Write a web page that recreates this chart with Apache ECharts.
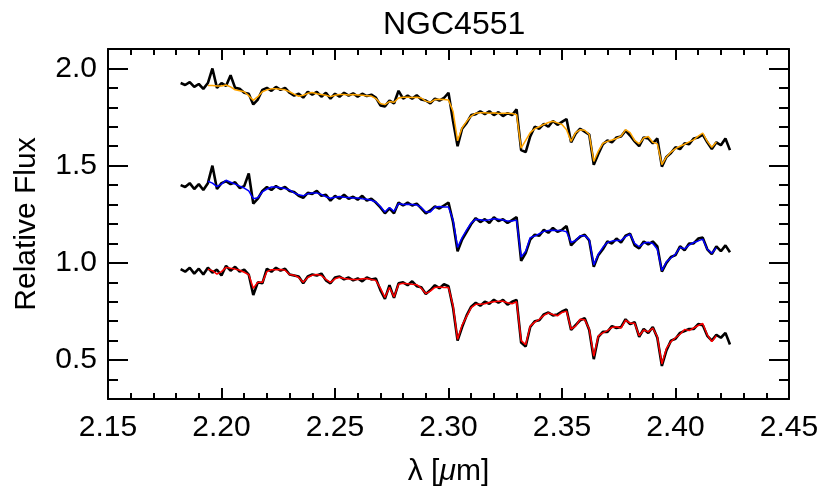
<!DOCTYPE html>
<html>
<head>
<meta charset="utf-8">
<title>NGC4551</title>
<script src="https://cdn.jsdelivr.net/npm/echarts@6/dist/echarts.min.js"></script>
<style>
  html, body { margin: 0; padding: 0; background: #fff; }
  #chart { width: 830px; height: 499px; }
</style>
</head>
<body>
<div id="chart"></div>
<script>
// wavelength grid of the observed spectra (micron)
const lambdaStart = 2.182;
const lambdaStep = 0.002;
// the model fits start at this grid index
const modelStartIndex = 6;

// observed spectra (black), offset copies
const obsTop = [
  1.925, 1.915, 1.93, 1.905, 1.92, 1.895, 1.925, 2.0, 1.9, 1.925,
  1.91, 1.965, 1.9, 1.895, 1.875, 1.87, 1.815, 1.84, 1.89, 1.9,
  1.885, 1.905, 1.89, 1.9, 1.875, 1.86, 1.87, 1.85, 1.88, 1.865,
  1.88, 1.855, 1.875, 1.845, 1.87, 1.855, 1.875, 1.86, 1.872, 1.855,
  1.87, 1.858, 1.865, 1.85, 1.81, 1.805, 1.835, 1.82, 1.885, 1.845,
  1.86, 1.845, 1.862, 1.84, 1.835, 1.82, 1.845, 1.835, 1.848, 1.875,
  1.73, 1.6, 1.69, 1.72, 1.76, 1.765, 1.78, 1.765, 1.78, 1.76,
  1.775, 1.755, 1.77, 1.76, 1.79, 1.58, 1.57, 1.65, 1.7, 1.69,
  1.715, 1.7, 1.73, 1.71, 1.725, 1.74, 1.62, 1.665, 1.69, 1.675,
  1.66, 1.505, 1.56, 1.61, 1.63, 1.62, 1.645, 1.65, 1.68, 1.655,
  1.625, 1.6, 1.645, 1.64, 1.615, 1.64, 1.495, 1.545, 1.565, 1.595,
  1.585, 1.615, 1.61, 1.64, 1.645, 1.66, 1.62, 1.585, 1.62, 1.605,
  1.64, 1.58
];
const obsMid = [
  1.4, 1.39, 1.41, 1.38, 1.405, 1.375, 1.41, 1.5, 1.38, 1.41,
  1.42, 1.405, 1.415, 1.385, 1.395, 1.46, 1.305, 1.33, 1.37, 1.39,
  1.375, 1.395, 1.38, 1.39, 1.37, 1.365, 1.345, 1.335, 1.36, 1.355,
  1.37, 1.345, 1.35, 1.32, 1.345, 1.33, 1.35, 1.33, 1.34, 1.325,
  1.345, 1.32, 1.33, 1.31, 1.285, 1.255, 1.28, 1.255, 1.31, 1.295,
  1.31, 1.295, 1.305, 1.28, 1.255, 1.27, 1.29, 1.28, 1.295, 1.31,
  1.21, 1.06, 1.12, 1.16, 1.2, 1.23, 1.21, 1.225, 1.205, 1.235,
  1.215, 1.225, 1.205, 1.22, 1.235, 1.01, 1.05, 1.12, 1.145, 1.14,
  1.17, 1.155, 1.18, 1.16, 1.17, 1.19, 1.09, 1.115, 1.135, 1.145,
  1.115, 0.98, 1.04, 1.07, 1.11, 1.1, 1.125, 1.105, 1.14, 1.15,
  1.09, 1.075, 1.11, 1.095, 1.11, 1.085, 0.955, 1.0, 1.03, 1.04,
  1.085, 1.065, 1.1, 1.1, 1.125, 1.13, 1.07, 1.045, 1.085, 1.06,
  1.09, 1.055
];
const obsLow = [
  0.968, 0.955, 0.975, 0.945, 0.97, 0.94, 0.975, 0.95, 0.965, 0.935,
  0.985, 0.96, 0.98, 0.955, 0.965, 0.94, 0.835, 0.9, 0.895, 0.97,
  0.955, 0.975, 0.96, 0.97, 0.94, 0.935, 0.93, 0.895, 0.93, 0.94,
  0.935, 0.945, 0.91, 0.895, 0.925, 0.93, 0.915, 0.925, 0.91, 0.92,
  0.905, 0.925, 0.915, 0.92, 0.86, 0.815, 0.885, 0.82, 0.895, 0.9,
  0.885, 0.905, 0.88, 0.875, 0.84, 0.86, 0.885, 0.87, 0.89, 0.88,
  0.77, 0.6, 0.67, 0.73, 0.775, 0.795, 0.78, 0.8, 0.79, 0.81,
  0.795, 0.81, 0.785, 0.8, 0.81, 0.59, 0.57, 0.67, 0.7, 0.705,
  0.735, 0.745, 0.73, 0.735, 0.75, 0.76, 0.655, 0.68, 0.705, 0.715,
  0.655, 0.505, 0.62, 0.645, 0.645, 0.675, 0.665, 0.67, 0.71, 0.685,
  0.695, 0.62, 0.66, 0.64, 0.67, 0.615, 0.47, 0.55, 0.6, 0.61,
  0.64, 0.65, 0.66, 0.66, 0.685, 0.68, 0.625, 0.6, 0.63, 0.615,
  0.64, 0.58
];

// model fits (orange, blue, red)
const fitTop = [
  1.912, 1.912, 1.91, 1.91,
  1.915, 1.905, 1.89, 1.885, 1.88, 1.86, 1.836, 1.855, 1.88, 1.89,
  1.895, 1.895, 1.893, 1.89, 1.88, 1.868, 1.857, 1.862, 1.872, 1.876,
  1.87, 1.866, 1.862, 1.855, 1.862, 1.866, 1.866, 1.864, 1.866, 1.864,
  1.862, 1.86, 1.858, 1.845, 1.82, 1.814, 1.83, 1.826, 1.848, 1.852,
  1.852, 1.85, 1.852, 1.848, 1.832, 1.826, 1.84, 1.842, 1.84, 1.838,
  1.78, 1.628, 1.695, 1.728, 1.755, 1.77, 1.772, 1.772, 1.77, 1.772,
  1.768, 1.77, 1.77, 1.768, 1.762, 1.59, 1.63, 1.67, 1.69, 1.7,
  1.712, 1.722, 1.728, 1.72, 1.712, 1.685, 1.625, 1.67, 1.685, 1.682,
  1.66, 1.522, 1.575, 1.615, 1.625, 1.632, 1.64, 1.652, 1.685, 1.67,
  1.63, 1.612, 1.642, 1.65, 1.62, 1.612, 1.505, 1.545, 1.57, 1.588,
  1.6, 1.61, 1.622, 1.633, 1.652, 1.668, 1.625, 1.595, 1.622
];
const fitMid = [
  1.42, 1.41, 1.392, 1.405,
  1.425, 1.415, 1.405, 1.395, 1.385, 1.37, 1.33, 1.335, 1.365, 1.38,
  1.39, 1.39, 1.386, 1.382, 1.375, 1.36, 1.35, 1.345, 1.356, 1.36,
  1.36, 1.352, 1.34, 1.332, 1.338, 1.342, 1.338, 1.336, 1.334, 1.334,
  1.33, 1.327, 1.322, 1.313, 1.29, 1.262, 1.285, 1.265, 1.305, 1.3,
  1.302, 1.3, 1.298, 1.285, 1.262, 1.262, 1.287, 1.29, 1.288, 1.287,
  1.22, 1.08, 1.13, 1.17, 1.205, 1.225, 1.222, 1.218, 1.222, 1.227,
  1.224, 1.22, 1.216, 1.215, 1.22, 1.03, 1.06, 1.13, 1.138, 1.15,
  1.162, 1.167, 1.168, 1.167, 1.166, 1.16, 1.105, 1.115, 1.14, 1.14,
  1.12, 0.99, 1.045, 1.08, 1.105, 1.112, 1.115, 1.115, 1.135, 1.148,
  1.1, 1.083, 1.102, 1.106, 1.1, 1.07, 0.96, 1.005, 1.025, 1.045,
  1.08, 1.072, 1.092, 1.105, 1.113, 1.122, 1.07, 1.05, 1.078
];
const fitLow = [
  0.968, 0.96, 0.942, 0.955,
  0.977, 0.972, 0.968, 0.962, 0.952, 0.94, 0.87, 0.9, 0.9, 0.955,
  0.965, 0.965, 0.966, 0.962, 0.94, 0.937, 0.925, 0.9, 0.925, 0.937,
  0.94, 0.935, 0.915, 0.9, 0.918, 0.926, 0.92, 0.917, 0.915, 0.914,
  0.918, 0.92, 0.915, 0.91, 0.87, 0.822, 0.875, 0.825, 0.89, 0.895,
  0.893, 0.89, 0.888, 0.87, 0.842, 0.855, 0.874, 0.876, 0.874, 0.874,
  0.78, 0.607, 0.68, 0.725, 0.77, 0.787, 0.787, 0.79, 0.796, 0.8,
  0.803, 0.803, 0.795, 0.79, 0.8, 0.6, 0.58, 0.675, 0.695, 0.71,
  0.73, 0.743, 0.735, 0.728, 0.745, 0.752, 0.66, 0.675, 0.71, 0.708,
  0.66, 0.52, 0.625, 0.64, 0.652, 0.668, 0.672, 0.665, 0.705, 0.69,
  0.69, 0.625, 0.655, 0.645, 0.665, 0.62, 0.48, 0.56, 0.595, 0.615,
  0.633, 0.658, 0.652, 0.665, 0.678, 0.688, 0.63, 0.595, 0.625
];

const yMajorTicks = [0.5, 1.0, 1.5, 2.0];

// pair flux values with their wavelength
function toPairs(flux, startIndex) {
  return flux.map(function (f, k) {
    var lam = lambdaStart + (startIndex + k) * lambdaStep;
    return [+lam.toFixed(4), f];
  });
}

var FONT = 'Liberation Sans';
var chart = echarts.init(document.getElementById('chart'), null, { renderer: 'canvas' });

function xAxisDef(pos, labels) {
  return {
    type: 'value', position: pos, min: 2.15, max: 2.45, interval: 0.05,
    axisLine: { show: true, onZero: false, lineStyle: { color: '#000', width: 2 } },
    axisTick: { show: true, inside: true, length: 11, lineStyle: { color: '#000', width: 2 } },
    minorTick: { show: true, splitNumber: 5, length: 6, lineStyle: { color: '#000', width: 2 } },
    axisLabel: {
      show: labels, color: '#000', fontFamily: FONT, fontSize: 30, margin: 14,
      formatter: function (v) { return v.toFixed(2); }
    },
    splitLine: { show: false }
  };
}

function yMinorDef(pos) {
  return {
    type: 'value', position: pos, min: 0.3, max: 2.1, interval: 0.1,
    axisLine: { show: true, onZero: false, lineStyle: { color: '#000', width: 2 } },
    axisTick: { show: true, inside: true, length: 10, lineStyle: { color: '#000', width: 2 } },
    axisLabel: { show: false },
    splitLine: { show: false }
  };
}

function yMajorDef(pos, labels) {
  return {
    type: 'value', position: pos, min: 0.3, max: 2.1,
    axisLine: { show: false },
    axisTick: { show: true, inside: true, length: 20, customValues: yMajorTicks, lineStyle: { color: '#000', width: 2 } },
    axisLabel: {
      show: labels, customValues: yMajorTicks, color: '#000', fontFamily: FONT, fontSize: 30, margin: 11,
      formatter: function (v) { return v.toFixed(1); }
    },
    splitLine: { show: false }
  };
}

var xBottom = xAxisDef('bottom', true);
xBottom.name = '{a|λ [}{b|μ}{a|m]}';
xBottom.nameLocation = 'middle';
xBottom.nameGap = 58;
xBottom.nameTextStyle = {
  rich: {
    a: { fontFamily: FONT, fontSize: 30, color: '#000' },
    b: { fontFamily: FONT, fontSize: 30, color: '#000', fontStyle: 'italic' }
  }
};

var yLeft = yMinorDef('left');
yLeft.name = 'Relative Flux';
yLeft.nameLocation = 'middle';
yLeft.nameGap = 66;
yLeft.nameTextStyle = { fontFamily: FONT, fontSize: 30, color: '#000' };

function lineSeries(name, data, color, width) {
  return {
    name: name, type: 'line', data: data, xAxisIndex: 0, yAxisIndex: 0,
    symbol: 'none', showSymbol: false, silent: true,
    lineStyle: { color: color, width: width }
  };
}

var option = {
  animation: false,
  backgroundColor: '#fff',
  title: {
    text: 'NGC4551', left: 378, top: 4,
    textStyle: { fontFamily: FONT, fontSize: 32, fontWeight: 'normal', color: '#000' }
  },
  grid: { left: 108, right: 41, top: 49, bottom: 100, containLabel: false },
  xAxis: [xBottom, xAxisDef('top', false)],
  yAxis: [yLeft, yMajorDef('left', true), yMinorDef('right'), yMajorDef('right', false)],
  series: [
    lineSeries('obs top', toPairs(obsTop, 0), '#000', 2.6),
    lineSeries('obs mid', toPairs(obsMid, 0), '#000', 2.6),
    lineSeries('obs low', toPairs(obsLow, 0), '#000', 2.6),
    lineSeries('fit top', toPairs(fitTop, modelStartIndex), '#FFA500', 1.5),
    lineSeries('fit mid', toPairs(fitMid, modelStartIndex), '#0000FF', 1.5),
    lineSeries('fit low', toPairs(fitLow, modelStartIndex), '#FF0000', 1.5)
  ]
};

chart.setOption(option);
</script>
</body>
</html>
